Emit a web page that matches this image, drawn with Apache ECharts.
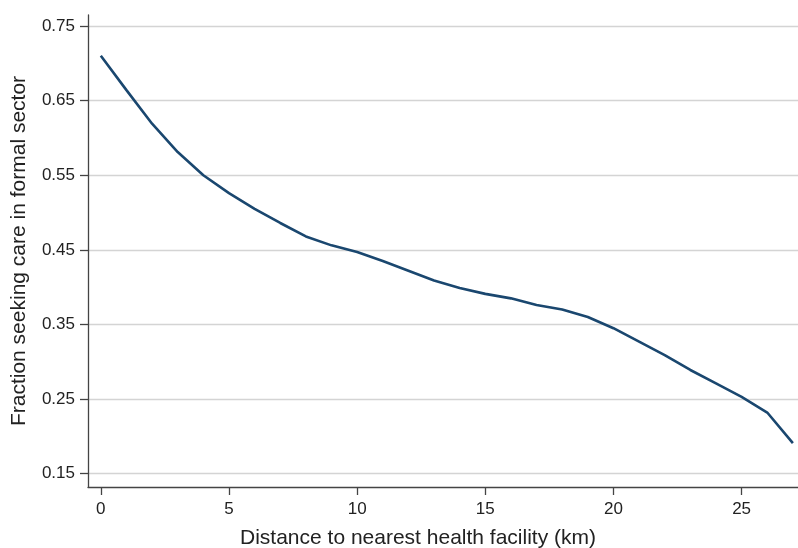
<!DOCTYPE html>
<html>
<head>
<meta charset="utf-8">
<script src="https://cdn.jsdelivr.net/npm/echarts@6/dist/echarts.min.js"></script>
<style>html,body{margin:0;padding:0;background:#fff}#c{width:798px;height:548px}</style>
</head>
<body>
<div id="c"></div>
<script>
var distances = [0,1,2,3,4,5,6,7,8,9,10,11,12,13,14,15,16,17,18,19,20,21,22,23,24,25,26,27];
var fractions = [0.710,0.664,0.619,0.581,0.550,0.526,0.505,0.486,0.468,0.456,0.447,0.435,0.422,0.409,0.399,0.391,0.385,0.376,0.370,0.360,0.345,0.327,0.309,0.289,0.271,0.253,0.232,0.191];
var yTicks = [0.15,0.25,0.35,0.45,0.55,0.65,0.75];
var xTicks = [0,5,10,15,20,25];
var xTitle = 'Distance to nearest health facility (km)';
var yTitle = 'Fraction seeking care in formal sector';

var chart = echarts.init(document.getElementById('c'), null, {renderer:'canvas'});
var font = 'Liberation Sans, Arial, Helvetica, sans-serif';
chart.setOption({
  animation:false,
  grid:{left:88,right:0,top:15,bottom:61,containLabel:false,outerBoundsMode:'none'},
  xAxis:{
    type:'value', min:-0.5, max:27.2,
    name:xTitle, nameLocation:'middle', nameGap:41,
    nameTextStyle:{fontFamily:font,fontSize:21,color:'#222',padding:[0,50,0,0]},
    axisLine:{show:true,onZero:false,lineStyle:{color:'#444',width:1.3}},
    axisTick:{show:true,length:8,lineStyle:{color:'#444',width:1.3},customValues:xTicks},
    axisLabel:{fontFamily:font,fontSize:17,color:'#222',margin:14,customValues:xTicks,formatter:function(v){return String(v);}},
    splitLine:{show:false}
  },
  yAxis:{
    type:'value', min:0.1322, max:0.7647,
    name:yTitle, nameLocation:'middle', nameGap:58,
    nameTextStyle:{fontFamily:font,fontSize:21,color:'#222'},
    axisLine:{show:true,onZero:false,lineStyle:{color:'#444',width:1.3}},
    axisTick:{show:true,length:8,lineStyle:{color:'#444',width:1.3},customValues:yTicks},
    axisLabel:{fontFamily:font,fontSize:17,color:'#222',margin:13,customValues:yTicks,formatter:function(v){return v.toFixed(2);}},
    splitLine:{show:true,lineStyle:{color:'#d4d4d4',width:1.3},customValues:yTicks}
  },
  series:[{
    type:'line',
    data:distances.map(function(d,i){return [d,fractions[i]];}),
    showSymbol:false, smooth:false,
    lineStyle:{color:'#1a476f',width:2.6},
    itemStyle:{color:'#1a476f'}
  }]
});
</script>
</body>
</html>
